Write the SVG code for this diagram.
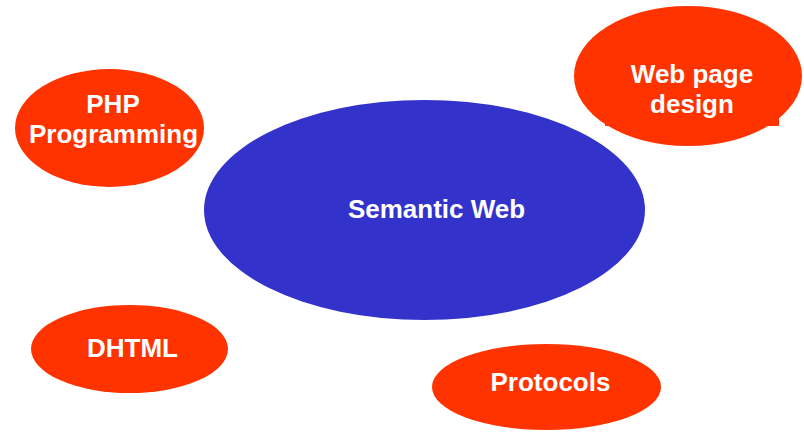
<svg xmlns="http://www.w3.org/2000/svg" width="804" height="433" viewBox="0 0 804 433">
<style>
.red{fill:#ff3300}
.blue{fill:#3333cc}
text{font-family:"Liberation Sans",Arial,sans-serif;font-weight:bold;font-size:26px;fill:#ffffff;text-anchor:middle}
</style>
<rect width="804" height="433" fill="#ffffff"/>
<g id="connectors"></g>
<g id="web-page-design">
<ellipse class="red" cx="688" cy="76" rx="114" ry="70"/>
<rect class="red" x="605" y="100" width="174" height="26"/>
<text x="692" y="83">Web page</text>
<text x="692" y="113">design</text>
</g>
<g id="php-programming">
<ellipse class="red" cx="109.5" cy="128" rx="94.5" ry="59"/>
<text x="113" y="113">PHP</text>
<text x="113.5" y="143">Programming</text>
</g>
<g id="semantic-web">
<ellipse class="blue" cx="424.5" cy="210" rx="220.5" ry="110"/>
<text x="436.5" y="218">Semantic Web</text>
</g>
<g id="dhtml">
<ellipse class="red" cx="129.5" cy="349" rx="98.5" ry="44"/>
<text x="132.5" y="357">DHTML</text>
</g>
<g id="protocols">
<ellipse class="red" cx="546.5" cy="387" rx="114.5" ry="43"/>
<text x="550.5" y="391">Protocols</text>
</g>
</svg>
